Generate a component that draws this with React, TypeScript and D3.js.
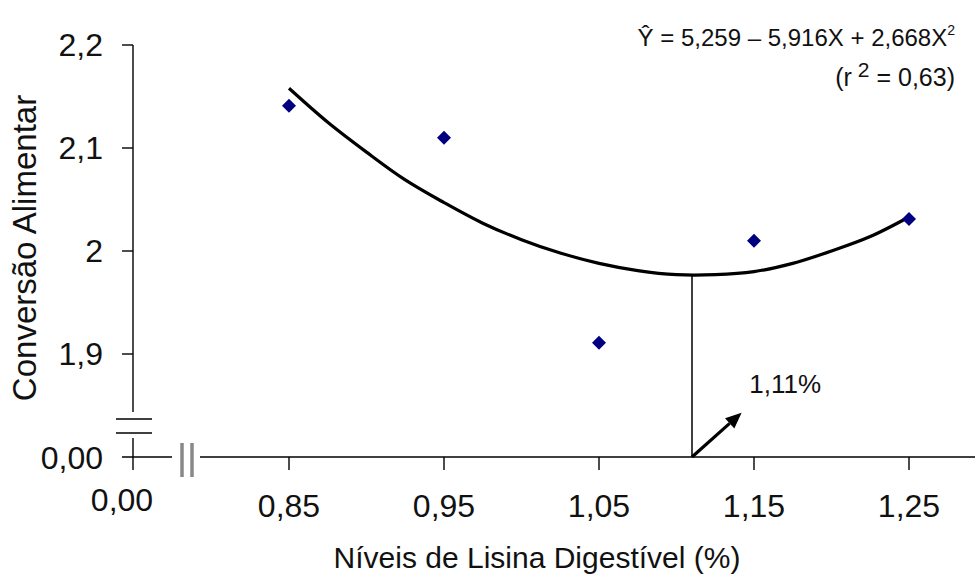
import React from "react";
import * as d3 from "d3";

// ---- data ----
const levels = [0.85, 0.95, 1.05, 1.15, 1.25];
const observed = [2.141, 2.11, 1.911, 2.01, 2.031];
const fitX = [0.85, 0.875, 0.9, 0.925, 0.95, 0.975, 1.0, 1.025, 1.05, 1.075, 1.1, 1.125, 1.15, 1.175, 1.2, 1.225, 1.25];
const fitY = [2.158, 2.125, 2.096, 2.069, 2.047, 2.027, 2.011, 1.998, 1.988, 1.981, 1.977, 1.977, 1.98, 1.988, 2.0, 2.014, 2.033];
const xTicks = [0.85, 0.95, 1.05, 1.15, 1.25];
const xTickLabels = ["0,85", "0,95", "1,05", "1,15", "1,25"];
const yTicks = [2.2, 2.1, 2.0, 1.9];
const yTickLabels = ["2,2", "2,1", "2", "1,9"];
const optimum = 1.11;
const optimumY = 1.976;
const arrowFrom = [1.11, 1.8];
const arrowTo = [1.142, 1.843];
const optimumLabel = "1,11%";
const labelPos = [1.147, 1.862];
const xOrigin = 0.75; // drawn as "0,00" after the axis break
const yOrigin = 1.8; // drawn as "0,00" after the axis break
const originLabel = "0,00";
const xTitle = "Níveis de Lisina Digestível (%)";
const yTitle = "Conversão Alimentar";

const W = 975;
const H = 574;
const FONT = "'Liberation Sans', Arial, sans-serif";
const TXT = "#111";

export default function App() {
  const x = d3.scaleLinear().domain([xOrigin, 1.25]).range([134, 909]);
  const y = d3.scaleLinear().domain([yOrigin, 2.2]).range([457, 45]);

  const line = d3
    .line<number>()
    .x((_, i) => x(fitX[i]))
    .y((d) => y(d))
    .curve(d3.curveCatmullRom);

  const ax = x(xOrigin) - 1; // y-axis x position
  const ay = y(yOrigin); // x-axis y position

  // arrow geometry
  const x1 = x(arrowFrom[0]), y1 = y(arrowFrom[1]);
  const x2 = x(arrowTo[0]), y2 = y(arrowTo[1]);
  const ang = Math.atan2(y2 - y1, x2 - x1);
  const hl = 16, hw = 7;
  const bx = x2 - hl * Math.cos(ang), by = y2 - hl * Math.sin(ang);
  const head = [
    [x2, y2],
    [bx + hw * Math.sin(ang), by - hw * Math.cos(ang)],
    [bx - hw * Math.sin(ang), by + hw * Math.cos(ang)],
  ];

  return (
    <div style={{ position: "absolute", left: 0, top: 0 }}>
      <svg width={W} height={H} style={{ display: "block", background: "#fff" }} fontFamily={FONT}>
        <rect width={W} height={H} fill="#fff" />

        {/* Y axis upper part */}
        <line x1={ax} x2={ax} y1={y(2.2)} y2={412} stroke="#000" strokeWidth={1.4} />
        {yTicks.map((t, i) => (
          <g key={t}>
            <line x1={ax - 11} x2={ax} y1={y(t)} y2={y(t)} stroke="#000" strokeWidth={1.4} />
            <text x={103} y={y(t) + 11} textAnchor="end" fontSize={32} fill={TXT}>
              {yTickLabels[i]}
            </text>
          </g>
        ))}
        {/* Y axis break */}
        <line x1={ax - 17} x2={ax + 19} y1={419} y2={419} stroke="#000" strokeWidth={1.4} />
        <line x1={ax - 17} x2={ax + 19} y1={433} y2={433} stroke="#000" strokeWidth={1.4} />
        <line x1={ax} x2={ax} y1={438} y2={470} stroke="#000" strokeWidth={1.4} />
        <line x1={ax - 11} x2={172} y1={ay} y2={ay} stroke="#000" strokeWidth={1.4} />
        <text x={103} y={ay + 12} textAnchor="end" fontSize={32} fill={TXT}>
          {originLabel}
        </text>
        <text x={122} y={ay + 54} textAnchor="middle" fontSize={32} fill={TXT}>
          {originLabel}
        </text>

        {/* X axis break */}
        <line x1={182} x2={182} y1={443} y2={477} stroke="#888" strokeWidth={3.5} />
        <line x1={192} x2={192} y1={443} y2={477} stroke="#888" strokeWidth={3.5} />
        <line x1={200} x2={W} y1={ay} y2={ay} stroke="#000" strokeWidth={1.4} />
        {xTicks.map((t, i) => (
          <g key={t}>
            <line x1={x(t)} x2={x(t)} y1={ay} y2={ay + 13} stroke="#000" strokeWidth={1.4} />
            <text x={x(t)} y={ay + 60} textAnchor="middle" fontSize={32} fill={TXT}>
              {xTickLabels[i]}
            </text>
          </g>
        ))}

        {/* titles */}
        <text x={537} y={568} textAnchor="middle" fontSize={30} fill={TXT}>
          {xTitle}
        </text>
        <text transform={`translate(36,248) rotate(-90)`} textAnchor="middle" fontSize={33} fill={TXT}>
          {yTitle}
        </text>

        {/* fitted curve */}
        <path d={line(fitY) || ""} fill="none" stroke="#000" strokeWidth={3.2} />

        {/* optimum drop line */}
        <line x1={x(optimum)} x2={x(optimum)} y1={y(optimumY)} y2={ay} stroke="#000" strokeWidth={1.5} />

        {/* arrow */}
        <line x1={x1} y1={y1} x2={bx} y2={by} stroke="#000" strokeWidth={3.2} />
        <polygon points={head.map((p) => p.join(",")).join(" ")} fill="#000" />
        <text x={x(labelPos[0])} y={y(labelPos[1])} fontSize={26} fill={TXT}>
          {optimumLabel}
        </text>

        {/* observed points */}
        {levels.map((lv, i) => (
          <path
            key={lv}
            d={`M${x(lv)},${y(observed[i]) - 7}L${x(lv) + 7},${y(observed[i])}L${x(lv)},${y(observed[i]) + 7}L${x(lv) - 7},${y(observed[i])}Z`}
            fill="#000080"
          />
        ))}

        {/* equation */}
        <text x={955} y={46} textAnchor="end" fontSize={24} fill={TXT}>
          <tspan>Ŷ = 5,259 – 5,916X + 2,668X</tspan>
          <tspan fontSize={14} dy={-11}>2</tspan>
        </text>
        <text x={955} y={86} textAnchor="end" fontSize={25} fill={TXT}>
          <tspan>(r</tspan>
          <tspan fontSize={21} dx={6} dy={-9}>2</tspan>
          <tspan dy={9}> = 0,63)</tspan>
        </text>
      </svg>
    </div>
  );
}
